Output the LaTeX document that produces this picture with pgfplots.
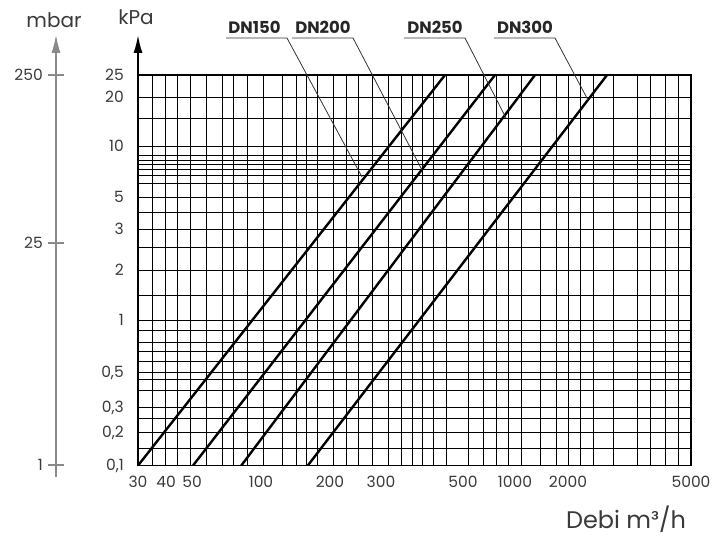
\documentclass[border=0pt]{standalone}
\usepackage{pgfplots}
\pgfplotsset{compat=1.18}
\usepackage{pgfplotstable}
\usetikzlibrary{arrows.meta}
\usepackage{fontspec}
\setmainfont{Poppins}
\definecolor{txt}{HTML}{3A3A3A}
\definecolor{axgray}{HTML}{8A8A8A}
\definecolor{lead}{HTML}{333333}

% Pressure drop lines: flow (m3/h) vs pressure drop (kPa)
\pgfplotstableread{
q    dp
30   0.1
447  25
}\dnA
\pgfplotstableread{
q    dp
50.5 0.1
766  25
}\dnB
\pgfplotstableread{
q    dp
82   0.1
1300 25
}\dnC
\pgfplotstableread{
q    dp
160  0.1
2675 25
}\dnD

\begin{document}
\begin{tikzpicture}
\useasboundingbox (0,0) rectangle (724pt,537pt);
\begin{axis}[
  at={(138pt,71.5pt)}, anchor=south west,
  scale only axis, width=553pt, height=390.5pt,
  x coord trafo/.code={\pgfmathparse{log10(#1)}\let\myLx\pgfmathresult
    \pgfmathparse{ifthenelse(\myLx<1.60206, 138+(\myLx-1.47712)*224.11,
      ifthenelse(\myLx<1.69897, 166+(\myLx-1.60206)*268.29,
      ifthenelse(\myLx<2.30103, 192+(\myLx-1.69897)*229.21,
      ifthenelse(\myLx<2.47712, 330+(\myLx-2.30103)*289.62,
      ifthenelse(\myLx<2.69897, 381+(\myLx-2.47712)*369.62,
      ifthenelse(\myLx<3, 463+(\myLx-2.69897)*172.74,
      ifthenelse(\myLx<3.30103, 515+(\myLx-3)*176.06,
      568+(\myLx-3.30103)*309.09)))))))}},
  y coord trafo/.code={\pgfmathparse{log10(#1)}\let\myLy\pgfmathresult
    \pgfmathparse{ifthenelse(\myLy<-0.69897, 71.5+(\myLy+1)*111.28,
      ifthenelse(\myLy<-0.52288, 105+(\myLy+0.69897)*141.97,
      ifthenelse(\myLy<-0.30103, 130+(\myLy+0.52288)*155.51,
      ifthenelse(\myLy<0, 164.5+(\myLy+0.30103)*172.74,
      ifthenelse(\myLy<0.30103, 216.5+\myLy*167.76,
      ifthenelse(\myLy<0.47712, 267+(\myLy-0.30103)*232.83,
      ifthenelse(\myLy<0.69897, 308+(\myLy-0.47712)*144.24,
      ifthenelse(\myLy<1, 340+(\myLy-0.69897)*169.42,
      ifthenelse(\myLy<1.30103, 391+(\myLy-1)*161.11,
      439.5+(\myLy-1.30103)*232.17)))))))))}},
  xmin=30, xmax=5000, ymin=0.1, ymax=25,
  xtick={30,40,50,100,200,300,500,1000,2000,5000},
  xticklabels={30,40,50,100,200,300,500,1000,2000,5000},
  minor xtick={34.6,39.6,44,49.1,58,68,76,87,102,124,142,157,177,206,227,250,279,315,340,364,387,415,450,534,653,776,911,1082,1387,1710,2000,2187,2410,2797,3344,3683,4119,4539},
  ytick={0.1,0.2,0.3,0.5,1,2,3,5,10,20,25},
  yticklabels={{0,1},{0,2},{0,3},{0,5},1,2,3,5,10,20,25},
  minor ytick={0.14,0.25,0.383,0.45,0.583,0.66,0.75,0.875,1.42,2.5,3.93,6.05,6.74,7.32,7.83,8.27,8.85,14.8},
  xmajorgrids=false, xminorgrids=true,
  ymajorgrids=true, yminorgrids=true,
  major grid style={black, line width=0.7pt},
  minor grid style={black, line width=0.7pt},
  major tick length=0pt, minor tick length=0pt,
  axis line style={black, line width=1.1pt},
  tick label style={font=\fontsize{15.5}{18}\selectfont, text=txt, inner sep=0pt},
  yticklabel style={anchor=base east, xshift=-14pt, yshift=-5.4pt},
  xticklabel style={anchor=north, yshift=-10.5pt},
  clip=true,
]
\addplot[black, line width=2.4pt] table[x=q, y=dp] {\dnA};
\addplot[black, line width=2.4pt] table[x=q, y=dp] {\dnB};
\addplot[black, line width=2.4pt] table[x=q, y=dp] {\dnC};
\addplot[black, line width=2.4pt] table[x=q, y=dp] {\dnD};
\end{axis}

% kPa axis arrow
\draw[black, line width=1.6pt, -{Latex[length=18pt,width=9pt]}] (138pt,462pt) -- (138pt,502pt);
\node[anchor=base, text=txt, font=\fontsize{20}{23}\selectfont, inner sep=0pt] at (136pt,512pt) {kPa};

% mbar axis
\draw[axgray, line width=1.2pt, -{Latex[length=18pt,width=9pt]}] (56pt,60pt) -- (56pt,502pt);
\foreach \yy in {462,294,72} {\draw[axgray, line width=1.2pt] (48pt,\yy pt) -- (64pt,\yy pt);}
\node[anchor=base east, text=txt, font=\fontsize{15.5}{18}\selectfont, inner sep=0pt] at (43pt,456.6pt) {250};
\node[anchor=base east, text=txt, font=\fontsize{15.5}{18}\selectfont, inner sep=0pt] at (43pt,288.6pt) {25};
\node[anchor=base east, text=txt, font=\fontsize{15.5}{18}\selectfont, inner sep=0pt] at (43pt,66.6pt) {1};
\node[anchor=base, text=txt, font=\fontsize{20}{23}\selectfont, inner sep=0pt] at (54pt,509.7pt) {mbar};

% x axis title
\node[anchor=base, text=txt, font=\fontsize{24}{28}\selectfont, inner sep=0pt] at (626pt,8pt) {Debi m³/h};

% DN labels and leaders
\foreach \cx/\lbl in {254.5/DN150, 323/DN200, 435/DN250, 525/DN300}{
  \node[anchor=base, text=black!85, font=\fontsize{16.5}{19}\selectfont\bfseries, inner sep=0pt] at (\cx pt,503.7pt) {\lbl};
}
\draw[lead, line width=0.8pt] (226pt,499pt) -- (287pt,499pt) -- (362pt,360pt);
\draw[lead, line width=0.8pt] (292pt,499pt) -- (353pt,499pt) -- (422pt,367pt);
\draw[lead, line width=0.8pt] (404pt,499pt) -- (465pt,499pt) -- (506pt,419pt);
\draw[lead, line width=0.8pt] (494pt,499pt) -- (555pt,499pt) -- (588pt,437pt);
\end{tikzpicture}
\end{document}
